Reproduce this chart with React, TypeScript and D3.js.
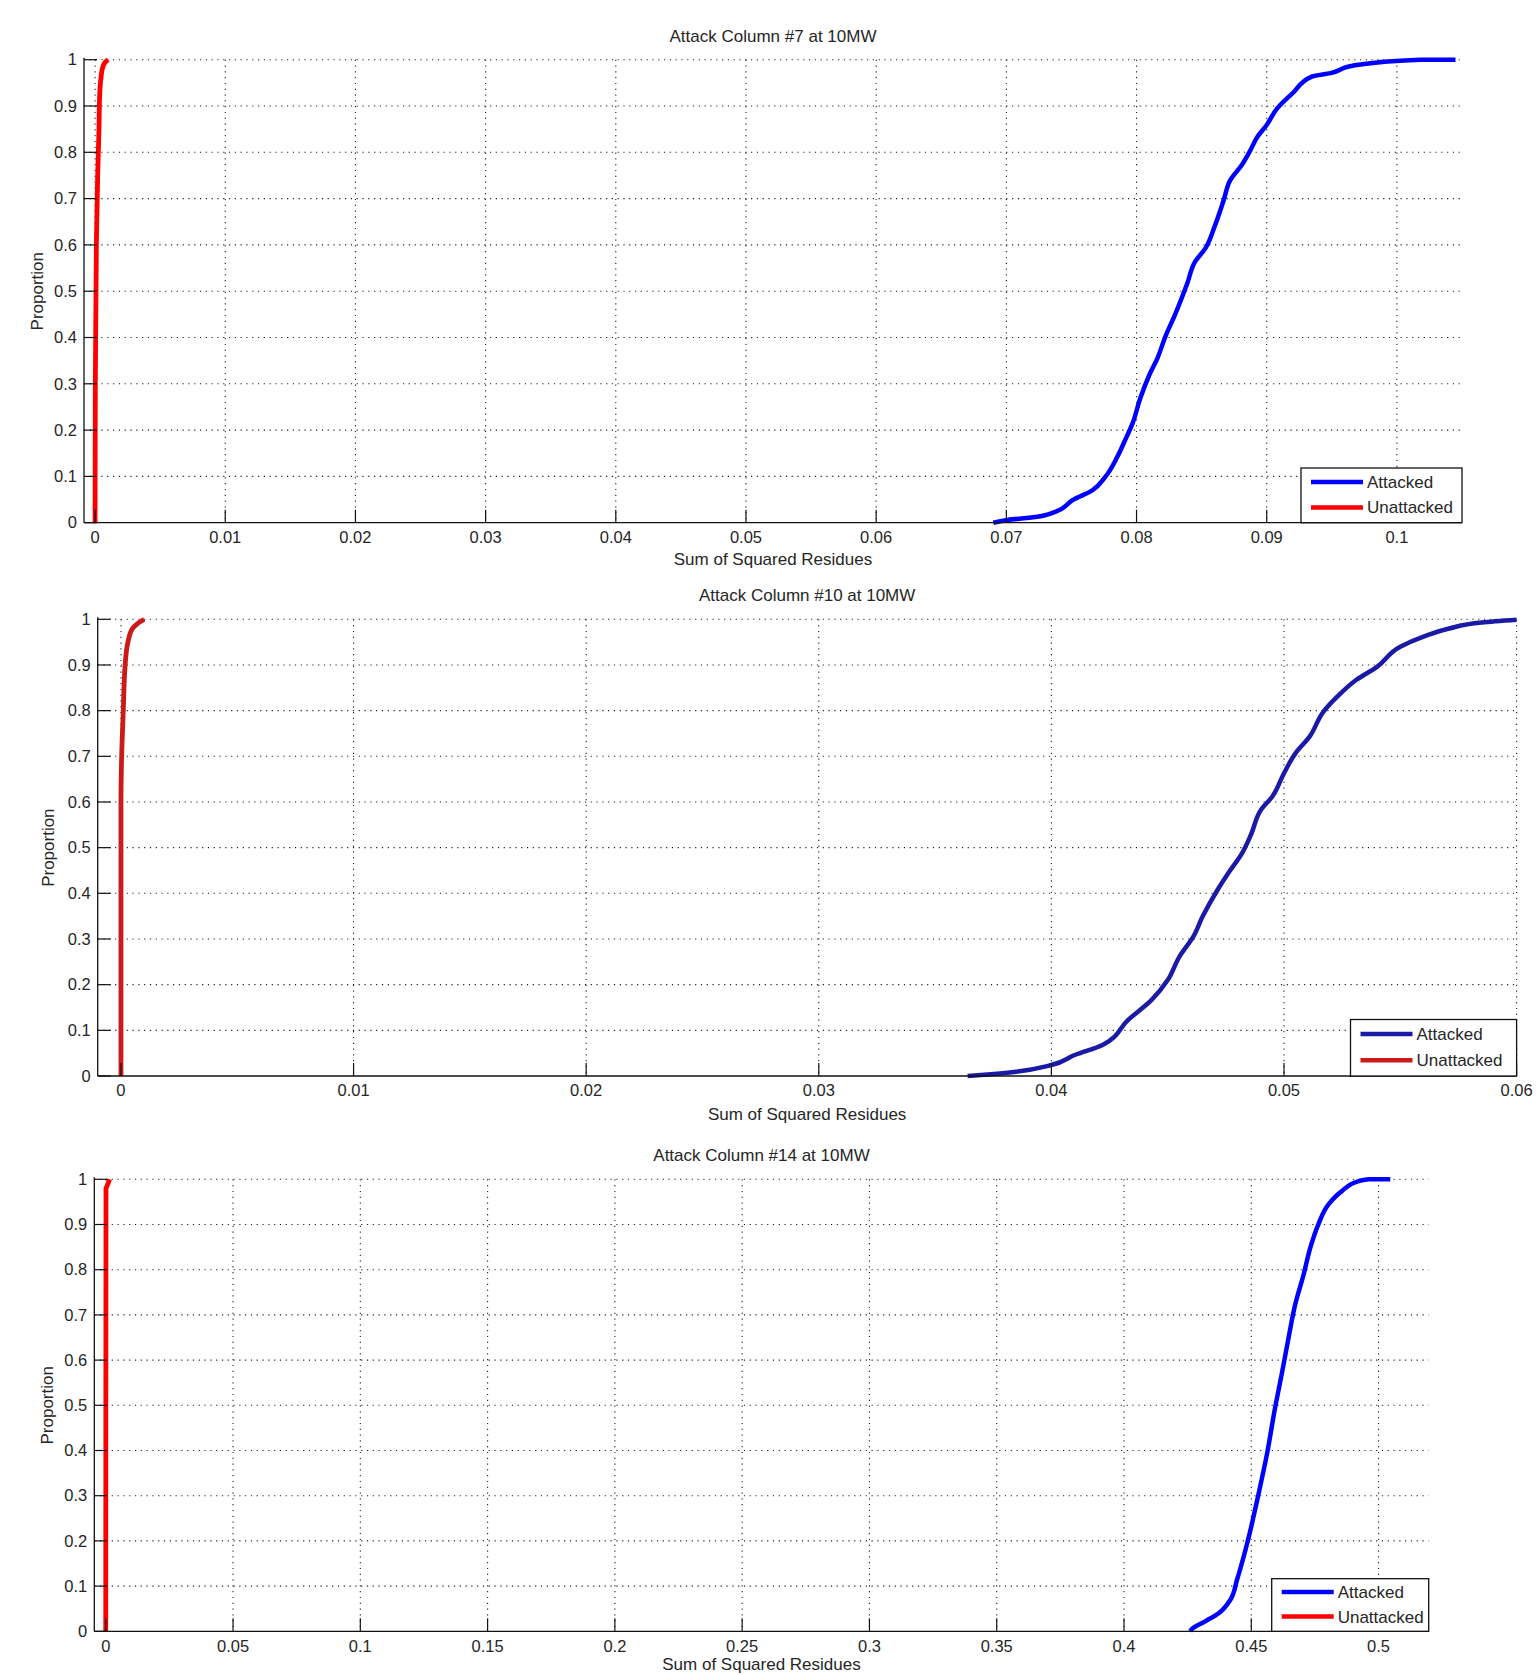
import * as d3 from 'd3';

// proportion ticks shared by all three panels
const yTicks = [0, 0.1, 0.2, 0.3, 0.4, 0.5, 0.6, 0.7, 0.8, 0.9, 1];
const xTicks7 = [0, 0.01, 0.02, 0.03, 0.04, 0.05, 0.06, 0.07, 0.08, 0.09, 0.1];
const xTicks10 = [0, 0.01, 0.02, 0.03, 0.04, 0.05, 0.06];
const xTicks14 = [0, 0.05, 0.1, 0.15, 0.2, 0.25, 0.3, 0.35, 0.4, 0.45, 0.5];

const legendNames = ['Attacked', 'Unattacked'];

// [sum of squared residues, proportion]
const attacked7: [number, number][] = [
  [0.069, 0], [0.0701, 0.006], [0.0719, 0.011], [0.0738, 0.024], [0.0751, 0.049],
  [0.0766, 0.07], [0.0776, 0.099], [0.0785, 0.141], [0.0791, 0.177], [0.0797, 0.215],
  [0.0803, 0.27], [0.081, 0.32], [0.0816, 0.355], [0.0822, 0.401], [0.083, 0.452],
  [0.0839, 0.517], [0.0845, 0.564], [0.0853, 0.593], [0.086, 0.64], [0.0867, 0.697],
  [0.0872, 0.74], [0.0881, 0.773], [0.0887, 0.802], [0.0893, 0.834], [0.09, 0.859],
  [0.0908, 0.895], [0.092, 0.928], [0.0935, 0.964], [0.0949, 0.971], [0.0966, 0.987],
  [0.0985, 0.994], [0.1018, 1], [0.1045, 1],
];
const unattacked7: [number, number][] = [
  [0, 0], [0.00002, 0.3], [0.0001, 0.6], [0.0002, 0.75], [0.0003, 0.85], [0.00035, 0.92],
  [0.00045, 0.96], [0.0006, 0.985], [0.0008, 0.995], [0.001, 1],
];

const attacked10: [number, number][] = [
  [0.0364, 0], [0.0374, 0.004], [0.0384, 0.009], [0.04, 0.024], [0.041, 0.046],
  [0.0422, 0.068], [0.0433, 0.123], [0.0443, 0.166], [0.045, 0.21], [0.0455, 0.261],
  [0.0461, 0.305], [0.0465, 0.349], [0.0471, 0.404], [0.0476, 0.444], [0.0482, 0.488],
  [0.0486, 0.531], [0.049, 0.582], [0.0495, 0.612], [0.05, 0.663], [0.0505, 0.707],
  [0.0511, 0.743], [0.0517, 0.798], [0.0523, 0.831], [0.0531, 0.867], [0.054, 0.896],
  [0.055, 0.94], [0.056, 0.962], [0.0571, 0.98], [0.0585, 0.993], [0.06, 0.999],
];
const unattacked10: [number, number][] = [
  [0, 0], [0, 0.6], [0.00003, 0.7], [0.0001, 0.8], [0.00018, 0.9], [0.0003, 0.95],
  [0.0005, 0.98], [0.0007, 0.99], [0.001, 1],
];

const attacked14: [number, number][] = [
  [0.426, 0], [0.4265, 0.004], [0.4319, 0.022], [0.4372, 0.04], [0.4418, 0.07],
  [0.4444, 0.114], [0.447, 0.165], [0.45, 0.232], [0.4529, 0.305], [0.4562, 0.393],
  [0.4594, 0.496], [0.462, 0.57], [0.4647, 0.651], [0.4673, 0.724], [0.4706, 0.79],
  [0.4732, 0.849], [0.4764, 0.901], [0.4804, 0.945], [0.4856, 0.974], [0.4922, 0.996],
  [0.4961, 1], [0.5046, 1],
];
const unattacked14: [number, number][] = [
  [0, 0], [0.0001, 0.98], [0.0005, 0.985], [0.0015, 1],
];

const FONT = '"Liberation Sans", Arial, Helvetica, sans-serif';
const TXT = '#262626';

type PanelProps = {
  title: string;
  xDomain: [number, number];
  left: number; right: number; top: number; bottom: number;
  xTicks: number[];
  attacked: [number, number][];
  unattacked: [number, number][];
  blue: string; red: string;
  legend: { x0: number; y0: number };
  yLabelX: number;
  xLabelGap: number;
};

const fmt = d3.format('~g');

const Panel = (p: PanelProps) => {
  const x = d3.scaleLinear().domain(p.xDomain).range([p.left, p.right]);
  const y = d3.scaleLinear().domain([0, 1]).range([p.bottom, p.top]);
  const line = d3.line<[number, number]>().x(d => x(d[0])).y(d => y(d[1])).curve(d3.curveMonotoneY);
  const lg = p.legend;
  const lw = p.right - lg.x0;
  const lh = p.bottom - lg.y0;
  const row1 = lg.y0 + lh * 0.255;
  const row2 = lg.y0 + lh * 0.72;
  return (
    <g>
      {/* grid */}
      {yTicks.filter(t => t > 0).map(t => (
        <line key={'gy' + t} x1={p.left} x2={p.right} y1={y(t)} y2={y(t)}
          stroke="#222" strokeWidth={1.1} strokeDasharray="1.2 4.6" />
      ))}
      {p.xTicks.map(t => (
        <line key={'gx' + t} x1={x(t)} x2={x(t)} y1={p.top} y2={p.bottom}
          stroke="#222" strokeWidth={1.1} strokeDasharray="1.2 4.6" />
      ))}
      {/* curves */}
      <path d={line(p.unattacked) ?? ''} fill="none" stroke={p.red} strokeWidth={4.8} strokeLinejoin="round" />
      <path d={line(p.attacked) ?? ''} fill="none" stroke={p.blue} strokeWidth={4.5} strokeLinejoin="round" />
      {/* axes */}
      <line x1={p.left} x2={p.right} y1={p.bottom} y2={p.bottom} stroke="#111" strokeWidth={1.3} />
      <line x1={p.left} x2={p.left} y1={p.top - 2} y2={p.bottom} stroke="#111" strokeWidth={1.3} />
      {p.xTicks.map(t => (
        <g key={'xt' + t}>
          <line x1={x(t)} x2={x(t)} y1={p.bottom} y2={p.bottom - 13} stroke="#111" strokeWidth={1.2} />
          <text x={x(t)} y={p.bottom + 14.5} dy="0.35em" textAnchor="middle"
            fontFamily={FONT} fontSize={16.5} fill={TXT}>{fmt(t)}</text>
        </g>
      ))}
      {yTicks.map(t => (
        <g key={'yt' + t}>
          <line x1={p.left} x2={p.left + 13} y1={y(t)} y2={y(t)} stroke="#111" strokeWidth={1.2} />
          <text x={p.left - 7} y={y(t)} dy="0.35em" textAnchor="end"
            fontFamily={FONT} fontSize={16.5} fill={TXT}>{fmt(t)}</text>
        </g>
      ))}
      <text x={(p.left + p.right) / 2} y={p.top - 24} dy="0.35em" textAnchor="middle"
        fontFamily={FONT} fontSize={17} fill={TXT}>{p.title}</text>
      <text x={(p.left + p.right) / 2} y={p.bottom + p.xLabelGap} dy="0.35em" textAnchor="middle"
        fontFamily={FONT} fontSize={17} fill={TXT}>Sum of Squared Residues</text>
      <text transform={`translate(${p.yLabelX},${(p.top + p.bottom) / 2}) rotate(-90)`}
        dy="0.35em" textAnchor="middle" fontFamily={FONT} fontSize={17} fill={TXT}>Proportion</text>
      {/* legend */}
      <rect x={lg.x0} y={lg.y0} width={lw} height={lh} fill="#fff" stroke="#111" strokeWidth={1.3} />
      <line x1={lg.x0 + 10} x2={lg.x0 + 62} y1={row1} y2={row1} stroke={p.blue} strokeWidth={4.5} />
      <line x1={lg.x0 + 10} x2={lg.x0 + 62} y1={row2} y2={row2} stroke={p.red} strokeWidth={4.5} />
      <text x={lg.x0 + 66} y={row1} dy="0.35em" fontFamily={FONT} fontSize={17} fill={TXT}>{legendNames[0]}</text>
      <text x={lg.x0 + 66} y={row2} dy="0.35em" fontFamily={FONT} fontSize={17} fill={TXT}>{legendNames[1]}</text>
    </g>
  );
};

export default function App() {
  return (
    <div style={{ position: 'absolute', left: 0, top: 0, background: '#fff' }}>
      <svg width={1536} height={1675} style={{ display: 'block' }}>
        <rect width={1536} height={1675} fill="#fff" />
        <Panel title="Attack Column #7 at 10MW" xDomain={[-0.00085, 0.105]}
          left={84} right={1462} top={59.7} bottom={522.7} xTicks={xTicks7}
          attacked={attacked7} unattacked={unattacked7} blue="#0000ff" red="#ff0000"
          legend={{ x0: 1301, y0: 468 }} yLabelX={37} xLabelGap={36} />
        <Panel title="Attack Column #10 at 10MW" xDomain={[-0.001, 0.06]}
          left={97.7} right={1516.6} top={619.3} bottom={1076} xTicks={xTicks10}
          attacked={attacked10} unattacked={unattacked10} blue="#1a1aa6" red="#cc1a1a"
          legend={{ x0: 1350.5, y0: 1019.5 }} yLabelX={48} xLabelGap={38} />
        <Panel title="Attack Column #14 at 10MW" xDomain={[-0.0045, 0.5197]}
          left={94.3} right={1428.7} top={1179.3} bottom={1631.3} xTicks={xTicks14}
          attacked={attacked14} unattacked={unattacked14} blue="#0000ff" red="#ff0000"
          legend={{ x0: 1271.7, y0: 1578.7 }} yLabelX={47} xLabelGap={32.5} />
      </svg>
    </div>
  );
}
